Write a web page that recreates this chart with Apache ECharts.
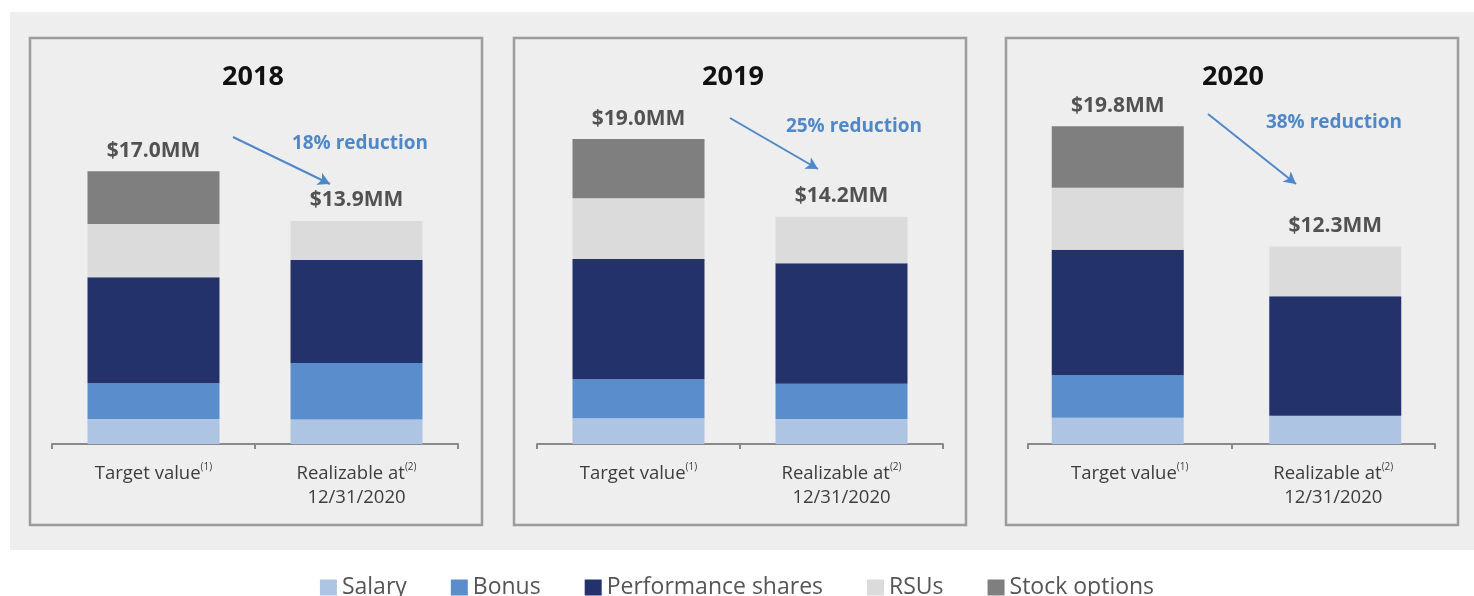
<!DOCTYPE html>
<html>
<head>
<meta charset="utf-8">
<script src="https://cdn.jsdelivr.net/npm/echarts@6/dist/echarts.min.js"></script>
<style>
html,body{margin:0;padding:0;background:#ffffff;}
#chart{width:1474px;height:596px;}
</style>
</head>
<body>
<div id="chart"></div>
<script>
// ---- data ----
const years = ['2018', '2019', '2020'];
const categories = ['Target value', 'Realizable at\n12/31/2020'];
const footnotes = ['(1)', '(2)'];
const seriesNames = ['Salary', 'Bonus', 'Performance shares', 'RSUs', 'Stock options'];
// values per year: [target, realizable] in $MM
const salary      = [[1.55, 1.53], [1.61, 1.56], [1.63, 1.76]];
const bonus       = [[2.23, 3.52], [2.42, 2.20], [2.66, 0.00]];
const performance = [[6.61, 6.42], [7.49, 7.50], [7.82, 7.45]];
const rsus        = [[3.31, 2.43], [3.79, 2.90], [3.86, 3.10]];
const stockOpts   = [[3.30, 0.00], [3.69, 0.00], [3.83, 0.00]];
const totals      = [[17.0, 13.9], [19.0, 14.2], [19.8, 12.3]];
const reductions  = ['18% reduction', '25% reduction', '38% reduction'];

// ---- styling ----
const colors = ['#adc4e2', '#5a8dcb', '#23326b', '#dcdbdc', '#7f7f7f'];
const FONT = '"Open Sans", "Liberation Sans", sans-serif';
const blue = '#4f88c9';
const panels = [
  {box: 30,   axisLeft: 52,   axisWidth: 406, barLeft: 52,   barWidth: 406, title: 253,  red: [360, 143], arrow: [[233, 137], [330, 184]]},
  {box: 514,  axisLeft: 537,  axisWidth: 406, barLeft: 537,  barWidth: 406, title: 733,  red: [854, 126], arrow: [[730, 118], [818, 169]]},
  {box: 1006, axisLeft: 1028, axisWidth: 407, barLeft: 1009, barWidth: 435, title: 1233, red: [1334, 122], arrow: [[1208, 114], [1296, 184]]}
];
const valueSets = [salary, bonus, performance, rsus, stockOpts];

const chart = echarts.init(document.getElementById('chart'), null, {renderer: 'canvas'});

const grids = [], xAxes = [], yAxes = [], series = [];
const graphics = [
  {type: 'rect', z: -10, shape: {x: 10, y: 12, width: 1464, height: 538}, style: {fill: '#efeeef'}}
];

panels.forEach((p, i) => {
  const gBar = i * 2, gAxis = i * 2 + 1;
  // grid for bars (hidden axis)
  grids.push({left: p.barLeft, width: p.barWidth, top: 123, bottom: 152});
  // grid for the visible category axis
  grids.push({left: p.axisLeft, width: p.axisWidth, top: 123, bottom: 152});

  xAxes.push({type: 'category', gridIndex: gBar, data: categories, show: false});
  xAxes.push({
    type: 'category', gridIndex: gAxis, data: categories,
    axisLine: {show: true, lineStyle: {color: '#8a8a8a', width: 2}},
    axisTick: {show: true, alignWithLabel: false, length: 5, lineStyle: {color: '#8a8a8a', width: 2}},
    axisLabel: {
      margin: 18, interval: 0, color: '#3d3d3d',
      formatter: (v, idx) => {
        const lines = v.split('\n');
        let out = '{t|' + lines[0] + '}{s|' + footnotes[idx] + '}';
        for (let k = 1; k < lines.length; k++) out += '\n{t|' + lines[k] + '}';
        return out;
      },
      rich: {
        t: {fontFamily: FONT, fontSize: 18.5, color: '#3d3d3d', lineHeight: 24},
        s: {fontFamily: FONT, fontSize: 10, color: '#3d3d3d', lineHeight: 24, verticalAlign: 'top', padding: [0, 0, 9, 0]}
      }
    }
  });
  yAxes.push({type: 'value', gridIndex: gBar, min: 0, max: 20, show: false, splitLine: {show: false}});
  yAxes.push({type: 'value', gridIndex: gAxis, min: 0, max: 20, show: false, splitLine: {show: false}});

  seriesNames.forEach((name, s) => {
    series.push({
      name: name, type: 'bar', stack: 'y' + i,
      xAxisIndex: gBar, yAxisIndex: gBar,
      barWidth: 132,
      itemStyle: {color: colors[s]},
      emphasis: {disabled: true},
      data: valueSets[s][i]
    });
  });

  series.push({
    name: 'total' + i, type: 'scatter', xAxisIndex: gBar, yAxisIndex: gBar,
    symbolSize: 0, z: 10, silent: true,
    data: totals[i],
    label: {
      show: true, position: 'top', distance: 10,
      formatter: (d) => '$' + d.value.toFixed(1) + 'MM',
      fontFamily: FONT, fontWeight: 'bold', fontSize: 21, color: '#2b2b2b'
    },
    markLine: {
      silent: true, symbol: ['none', 'arrow'], symbolSize: [10, 12],
      lineStyle: {color: blue, width: 2, type: 'solid'},
      label: {show: false},
      data: [[{x: p.arrow[0][0], y: p.arrow[0][1]}, {x: p.arrow[1][0], y: p.arrow[1][1]}]]
    }
  });

  graphics.push({
    type: 'rect', z: -5,
    shape: {x: p.box, y: 38, width: 452, height: 487},
    style: {fill: 'none', stroke: '#9c9c9c', lineWidth: 2.5}
  });
  graphics.push({
    type: 'text', x: p.title, y: 77,
    style: {text: years[i], textAlign: 'center', textVerticalAlign: 'middle',
            font: 'bold 27px ' + FONT, fill: '#111'}
  });
  graphics.push({
    type: 'text', x: p.red[0], y: p.red[1] + 1,
    style: {text: reductions[i], textAlign: 'center', textVerticalAlign: 'middle',
            font: 'bold 19px ' + FONT, fill: blue}
  });
});

chart.setOption({
  animation: false,
  backgroundColor: '#ffffff',
  grid: grids,
  xAxis: xAxes,
  yAxis: yAxes,
  series: series,
  graphic: graphics,
  legend: {
    data: seriesNames,
    top: 571, left: 'center',
    icon: 'rect', itemWidth: 17, itemHeight: 16, itemGap: 44,
    selectedMode: false,
    textStyle: {fontFamily: FONT, fontSize: 23, color: '#555'}
  }
});
</script>
</body>
</html>
